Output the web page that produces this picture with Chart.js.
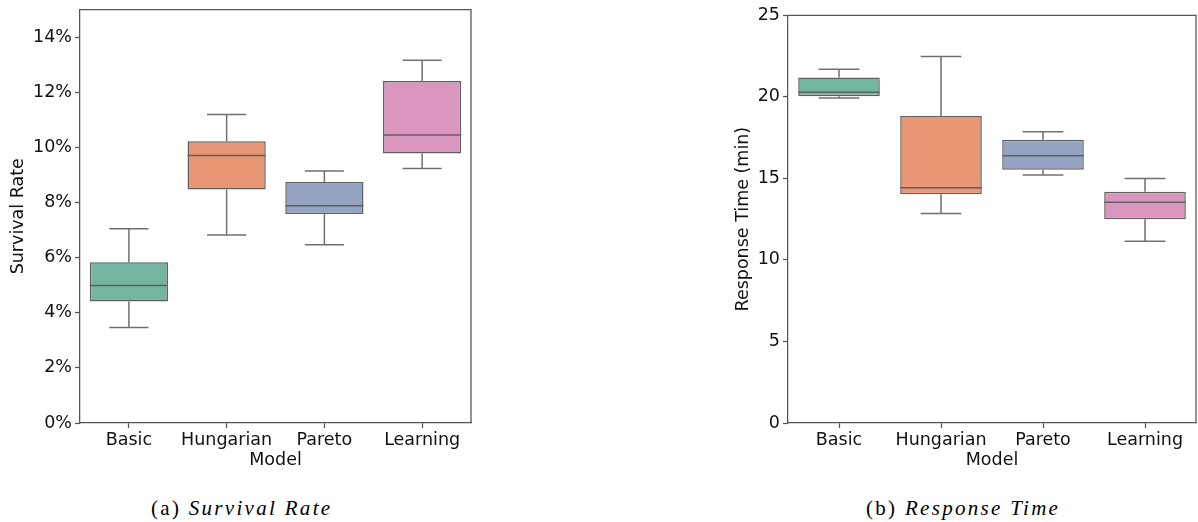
<!DOCTYPE html>
<html>
<head>
<meta charset="utf-8">
<script src="https://cdn.jsdelivr.net/npm/chart.js@4.4.0/dist/chart.umd.min.js"></script>
<style>
  body { margin: 0; background: #fff; width: 1198px; height: 522px; position: relative; overflow: hidden; }
  .panel { position: absolute; top: 0; height: 480px; }
  #left { left: 0; width: 480px; }
  #right { left: 720px; width: 478px; }
  .cap { position: absolute; top: 496px; font-family: "Liberation Serif", serif; font-size: 21px; line-height: 24px; letter-spacing: 2.3px; color: #000; white-space: nowrap; }
  .cap i { font-style: italic; }
</style>
</head>
<body>
<div class="panel" id="left"><canvas id="survivalChart"></canvas></div>
<div class="panel" id="right"><canvas id="responseChart"></canvas></div>
<div class="cap" style="left:151px">(a) <i>Survival Rate</i></div>
<div class="cap" style="left:866px">(b) <i>Response Time</i></div>

<script>
const models = ['Basic', 'Hungarian', 'Pareto', 'Learning'];
const boxColors = ['#72b6a1', '#e99675', '#95a3c3', '#db96c0'];

// survival rate (%)
const survivalMin = [3.46, 6.82, 6.47, 9.23];
const survivalQ1 = [4.41, 8.47, 7.58, 9.78];
const survivalMedian = [4.99, 9.70, 7.88, 10.45];
const survivalQ3 = [5.83, 10.22, 8.74, 12.41];
const survivalMax = [7.05, 11.19, 9.14, 13.16];
const survivalTicks = [0, 2, 4, 6, 8, 10, 12, 14];

// response time (min)
const responseMin = [19.93, 12.85, 15.21, 11.15];
const responseQ1 = [20.03, 14.02, 15.53, 12.50];
const responseMedian = [20.28, 14.43, 16.39, 13.53];
const responseQ3 = [21.18, 18.83, 17.37, 14.18];
const responseMax = [21.69, 22.47, 17.86, 15.00];
const responseTicks = [0, 5, 10, 15, 20, 25];

const lineGray = '#606060';
const axisGray = '#555';
const font = { family: 'DejaVu Sans', size: 17.5 };

// whiskers, medians and the frame, drawn through the chart's own scales
const boxExtras = {
    id: 'boxExtras',
    beforeDatasetsDraw(chart) {
        const o = chart.options.plugins.boxExtras;
        const xs = chart.scales.x, ys = chart.scales.y;
        const bars = chart.getDatasetMeta(0).data;
        const ctx = chart.ctx;
        ctx.save();
        ctx.strokeStyle = '#707070';
        ctx.lineWidth = 1.5;
        o.min.forEach((v, i) => {
            const x = xs.getPixelForValue(i);
            const half = bars[i].width / 4;
            const segs = [[o.q1[i], o.min[i]], [o.q3[i], o.max[i]]];
            segs.forEach(([a, b]) => {
                ctx.beginPath();
                ctx.moveTo(x, ys.getPixelForValue(a));
                ctx.lineTo(x, ys.getPixelForValue(b));
                ctx.moveTo(x - half, ys.getPixelForValue(b));
                ctx.lineTo(x + half, ys.getPixelForValue(b));
                ctx.stroke();
            });
        });
        ctx.restore();
    },
    afterDatasetsDraw(chart) {
        const o = chart.options.plugins.boxExtras;
        const xs = chart.scales.x, ys = chart.scales.y;
        const bars = chart.getDatasetMeta(0).data;
        const ctx = chart.ctx;
        ctx.save();
        ctx.strokeStyle = lineGray;
        ctx.lineWidth = 1.5;
        o.median.forEach((v, i) => {
            const x = xs.getPixelForValue(i);
            const half = bars[i].width / 2;
            const y = ys.getPixelForValue(v);
            ctx.beginPath();
            ctx.moveTo(x - half, y);
            ctx.lineTo(x + half, y);
            ctx.stroke();
        });
        // top and right spines
        const a = chart.chartArea;
        ctx.strokeStyle = axisGray;
        ctx.lineWidth = 1.25;
        ctx.beginPath();
        ctx.moveTo(a.left, a.top);
        ctx.lineTo(a.right, a.top);
        ctx.lineTo(a.right, a.bottom);
        ctx.stroke();
        ctx.restore();
    }
};

function makeBoxChart(canvasId, cfg) {
    return new Chart(document.getElementById(canvasId), {
        type: 'bar',
        data: {
            labels: models,
            datasets: [{
                data: cfg.q1.map((v, i) => [v, cfg.q3[i]]),
                backgroundColor: boxColors,
                borderColor: lineGray,
                borderWidth: 1.5,
                borderSkipped: false,
                barPercentage: 0.8,
                categoryPercentage: 1
            }]
        },
        options: {
            responsive: true,
            maintainAspectRatio: false,
            animation: false,
            layout: { padding: cfg.padding },
            plugins: {
                legend: { display: false },
                tooltip: { enabled: false },
                boxExtras: { min: cfg.min, q1: cfg.q1, median: cfg.median, q3: cfg.q3, max: cfg.max }
            },
            scales: {
                x: {
                    grid: { display: true, drawOnChartArea: false, offset: false, tickLength: 5, tickColor: axisGray, tickWidth: 1.25 },
                    border: { display: true, color: axisGray, width: 1.25 },
                    ticks: { color: '#111', font: font, padding: 2, maxRotation: 0 },
                    title: { display: true, text: 'Model', color: '#111', font: font, padding: { top: 0, bottom: 9 } },
                    afterFit(axis) { axis.height = 57; axis.paddingLeft = 0; axis.paddingRight = 0; }
                },
                y: {
                    min: 0,
                    max: cfg.yMax,
                    afterBuildTicks(axis) { axis.ticks = cfg.ticks.map(v => ({ value: v })); },
                    grid: { display: true, drawOnChartArea: false, tickLength: 5, tickColor: axisGray, tickWidth: 1.25 },
                    border: { display: true, color: axisGray, width: 1.25 },
                    ticks: { color: '#111', font: font, padding: 3, callback: cfg.fmt },
                    title: { display: true, text: cfg.yTitle, color: '#111', font: font, padding: { top: cfg.titlePad, bottom: 0 } },
                    afterFit(axis) { axis.width = cfg.yWidth; axis.paddingTop = 0; axis.paddingBottom = 0; }
                }
            }
        },
        plugins: [boxExtras]
    });
}

makeBoxChart('survivalChart', {
    min: survivalMin, q1: survivalQ1, median: survivalMedian, q3: survivalQ3, max: survivalMax,
    ticks: survivalTicks, yMax: 15, fmt: v => v + '%', yTitle: 'Survival Rate',
    yWidth: 80, titlePad: 8, padding: { left: 0, top: 9.5, right: 9, bottom: 0 }
});

makeBoxChart('responseChart', {
    min: responseMin, q1: responseQ1, median: responseMedian, q3: responseQ3, max: responseMax,
    ticks: responseTicks, yMax: 25, fmt: v => v, yTitle: 'Response Time (min)',
    yWidth: 68, titlePad: 13, padding: { left: 0, top: 15.3, right: 2, bottom: 0 }
});
</script>
</body>
</html>
